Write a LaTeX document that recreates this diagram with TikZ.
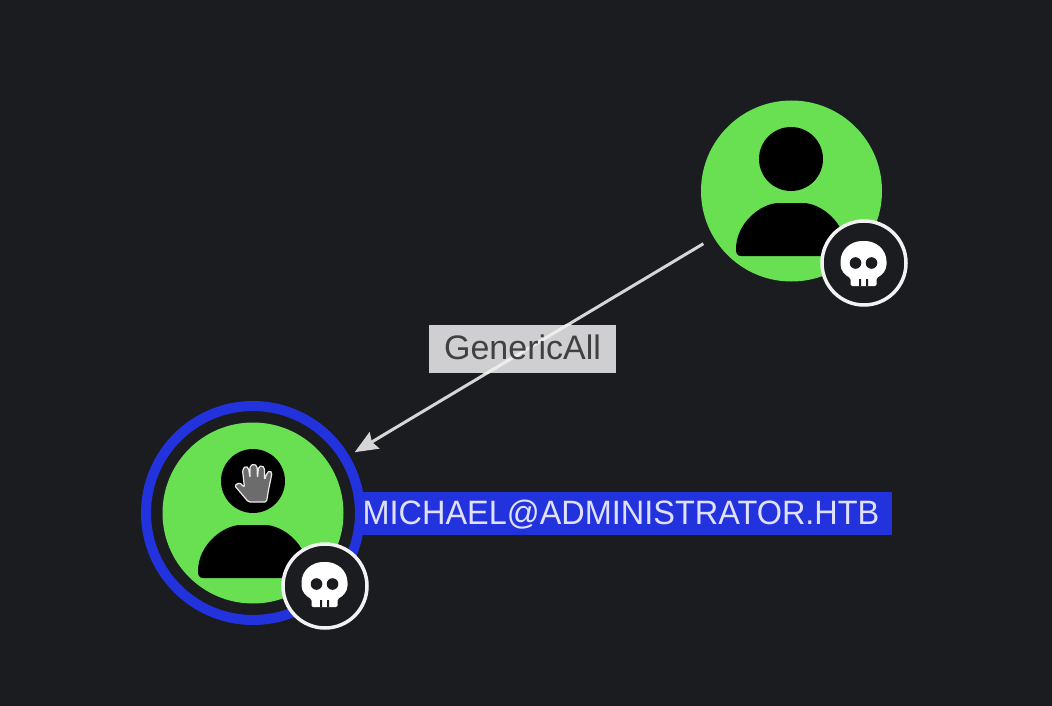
\documentclass[tikz,border=0pt]{standalone}
\usepackage{fontspec}
\setmainfont{Liberation Sans}
\newfontfamily\labelfont[FakeStretch=0.96]{Liberation Sans}
\usetikzlibrary{arrows.meta}
\definecolor{bgc}{HTML}{1B1C20}
\definecolor{greenc}{HTML}{69E052}
\definecolor{bluec}{HTML}{2233DD}
\definecolor{edgec}{HTML}{D6D6D6}
\definecolor{edgebright}{HTML}{EDEDED}
\definecolor{labelc}{HTML}{CFCFD1}
\tikzset{
  usernode/.style={circle,fill=greenc,draw=none,minimum size=181pt,inner sep=0pt},
  headdot/.style={circle,fill=black,draw=none,minimum size=64pt,inner sep=0pt},
  ringnode/.style={circle,draw=bluec,line width=10pt,fill=none,minimum size=214pt,inner sep=0pt,outer sep=0pt},
  badge/.style={circle,fill=bgc,draw=white!90!gray,line width=3.5pt,minimum size=84pt,inner sep=0pt},
  edgelabel/.style={fill=labelc,minimum width=187pt,minimum height=48pt,inner sep=0pt},
  namebox/.style={fill=bluec,minimum width=532pt,minimum height=43pt,inner sep=0pt},
  body/.pic={
    \fill[black] (-50,53) .. controls (-54,53) and (-55,50) .. (-55,46)
      .. controls (-55,20) and (-30,0) .. (-12,0) -- (12,0)
      .. controls (30,0) and (55,20) .. (55,46)
      .. controls (55,50) and (54,53) .. (50,53) -- cycle;
  },
  skull/.pic={
    \fill[white,rounded corners=1.5pt] (-13,22) -- (-13,14) .. controls (-19,11) and (-23,6) .. (-23,-1)
      .. controls (-23,-15) and (-12,-23) .. (0,-23)
      .. controls (12,-23) and (23,-15) .. (23,-1)
      .. controls (23,6) and (19,11) .. (13,14) -- (13,22) -- cycle;
    \fill[bgc] (-8,-1) circle (5.8) (8,-1) circle (5.8);
    \fill[bgc] (-4.5,15) rectangle (-2.5,22) (2.5,15) rectangle (4.5,22);
  }
}
\begin{document}
\begin{tikzpicture}[x=1pt,y=-1pt]
\useasboundingbox (0,0) rectangle (1052,706);
\fill[bgc] (0,0) rectangle (1052,706);
% name label behind the ring
\node[namebox] (namebg) at (626,513.5) {};
% user nodes
\node[usernode] (top) at (791.5,191) {};
\node[headdot] (tophead) at (791,159) {};
\pic at (791,203) {body};
\node[ringnode] (bot) at (253,513) {};
\node[usernode] (botinner) at (253,513) {};
\node[headdot] (bothead) at (253,481) {};
\pic at (253,525) {body};
% hand
\filldraw[fill=gray!85!black,draw=white!85!gray,line width=1.2pt,line join=round,rounded corners=1.6pt]
  (234.5,485.5) -- (239.5,482.5) -- (244.5,487.5) -- (242.5,470) -- (245.5,466) -- (248.5,468)
  -- (250,478) -- (250,466) -- (254,464) -- (257,466) -- (257.5,478) -- (258.5,467)
  -- (262,465.5) -- (264.5,468) -- (264.5,480) -- (267,473) -- (270,470.5) -- (272,473)
  -- (268.5,490) -- (266.5,502) -- (248.5,502) -- cycle;
% badges
\node[badge] (topbadge) at (864,263) {};
\pic at (863.5,264) {skull};
\node[badge] (botbadge) at (325,586) {};
\pic at (324.5,585) {skull};
% edge label and connector
\node[edgelabel] (edgelab) at (522.5,349) {};
\draw[edgec,line width=3pt,-{Stealth[length=23pt,width=19pt,inset=3pt]},shorten <=12pt,shorten >=11.5pt]
  (top) -- (bot);
\begin{scope}
  \clip (edgelab.north west) rectangle (edgelab.south east);
  \draw[edgebright,line width=3pt] (top) -- (bot);
\end{scope}
\node[text=black!75,font=\fontsize{34}{40}\selectfont,inner sep=0pt] (edgetext) at (522.5,347) {GenericAll};
\node[text=blue!12!white,font=\labelfont\fontsize{33.8}{40}\selectfont,inner sep=0pt] (nametext) at (621,514.5) {MICHAEL@ADMINISTRATOR.HTB};
\end{tikzpicture}
\end{document}
